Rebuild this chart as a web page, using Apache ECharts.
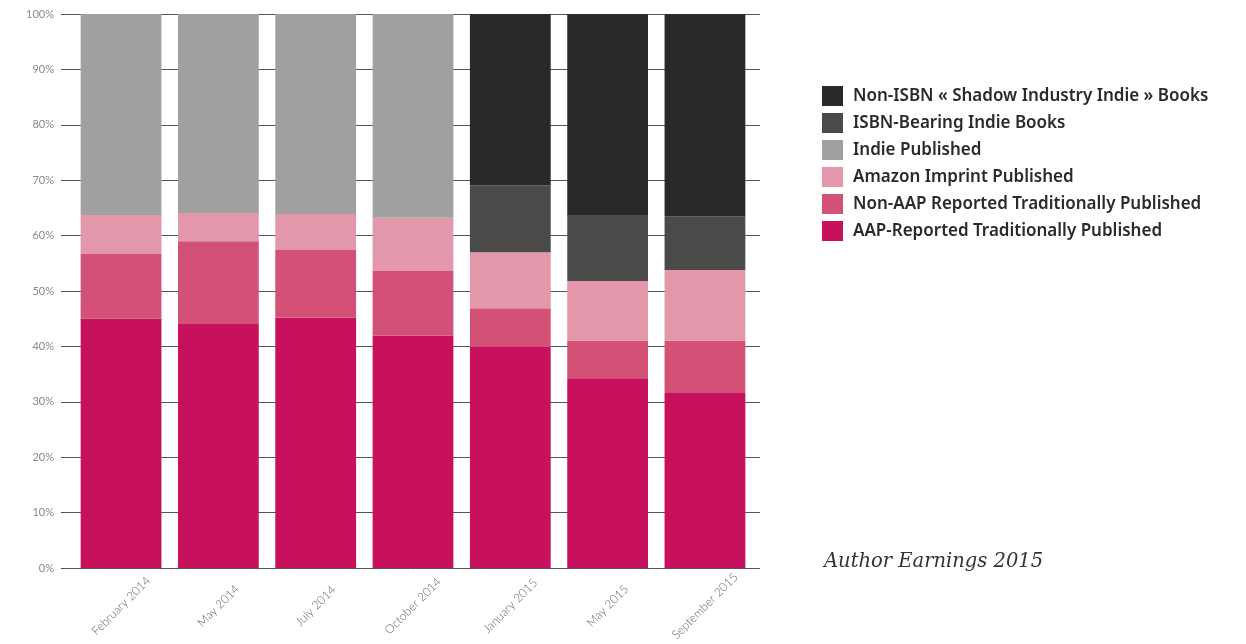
<!DOCTYPE html>
<html>
<head>
<meta charset="utf-8">
<script src="https://cdn.jsdelivr.net/npm/echarts@6/dist/echarts.min.js"></script>
<style>
html,body{margin:0;padding:0;background:#fff;}
#chart{width:1246px;height:644px;}
</style>
</head>
<body>
<div id="chart"></div>
<script>
const categories = ['February 2014','May 2014','July 2014','October 2014','January 2015','May 2015','September 2015'];
const aapTraditional    = [45.0, 44.2, 45.2, 41.9, 39.9, 34.1, 31.6];
const nonAapTraditional = [11.7, 14.8, 12.2, 11.7, 7.0, 6.9, 9.4];
const amazonImprint     = [7.0, 5.1, 6.5, 9.6, 10.1, 10.8, 12.8];
const indiePublished    = [36.3, 35.9, 36.1, 36.8, '-', '-', '-'];
const isbnIndie         = ['-', '-', '-', '-', 12.1, 11.9, 9.7];
const nonIsbnIndie      = ['-', '-', '-', '-', 30.9, 36.3, 36.5];
const seriesNames = [
  'AAP-Reported Traditionally Published',
  'Non-AAP Reported Traditionally Published',
  'Amazon Imprint Published',
  'Indie Published',
  'ISBN-Bearing Indie Books',
  'Non-ISBN « Shadow Industry Indie » Books'
];
const yTicks = {min: 0, max: 100, interval: 10};
const sourceNote = 'Author Earnings 2015';

const colors = ['#c8115c', '#d35077', '#e297ab', '#a0a0a0', '#4a4a49', '#292928'];
const seriesData = [aapTraditional, nonAapTraditional, amazonImprint, indiePublished, isbnIndie, nonIsbnIndie];

const chart = echarts.init(document.getElementById('chart'), null, {renderer: 'canvas'});
const option = {
  backgroundColor: '#ffffff',
  animation: false,
  grid: [
    {left: 72.4, right: 492.4, top: 14, bottom: 76},
    {left: 61, right: 486, top: 14, bottom: 76}
  ],
  legend: {
    orient: 'vertical',
    left: 822,
    top: 86,
    padding: 0,
    itemWidth: 21,
    itemHeight: 20,
    itemGap: 7,
    icon: 'rect',
    data: seriesNames.slice().reverse(),
    textStyle: {fontFamily: 'Noto Sans', fontWeight: 600, fontSize: 17, color: '#2a2a2a', padding: [0, 0, 0, 5]}
  },
  xAxis: [
    {
      type: 'category', gridIndex: 0, data: categories,
      axisLine: {show: false}, axisTick: {show: false},
      axisLabel: {rotate: 45, align: 'center', verticalAlign: 'middle', margin: 38,
        color: '#666', fontFamily: 'Lato', fontWeight: 300, fontSize: 12}
    },
    {type: 'category', gridIndex: 1, data: categories, show: false}
  ],
  yAxis: [
    {type: 'value', gridIndex: 0, min: yTicks.min, max: yTicks.max, interval: yTicks.interval, show: false},
    {
      type: 'value', gridIndex: 1, min: yTicks.min, max: yTicks.max, interval: yTicks.interval,
      axisLine: {show: false}, axisTick: {show: false},
      axisLabel: {formatter: '{value}%', color: '#888', fontFamily: 'Lato', fontSize: 11, margin: 7},
      splitLine: {lineStyle: {color: '#555', width: 1}}
    }
  ],
  series: seriesNames.map((name, i) => ({
    name: name,
    type: 'bar',
    stack: 'total',
    xAxisIndex: 0,
    yAxisIndex: 0,
    barCategoryGap: '17%',
    itemStyle: {color: colors[i]},
    data: seriesData[i]
  })),
  graphic: [{
    type: 'text',
    left: 824,
    top: 552,
    style: {text: sourceNote, fill: '#333', font: 'italic 19.5px "DejaVu Serif"'}
  }]
};
chart.setOption(option);
</script>
</body>
</html>
